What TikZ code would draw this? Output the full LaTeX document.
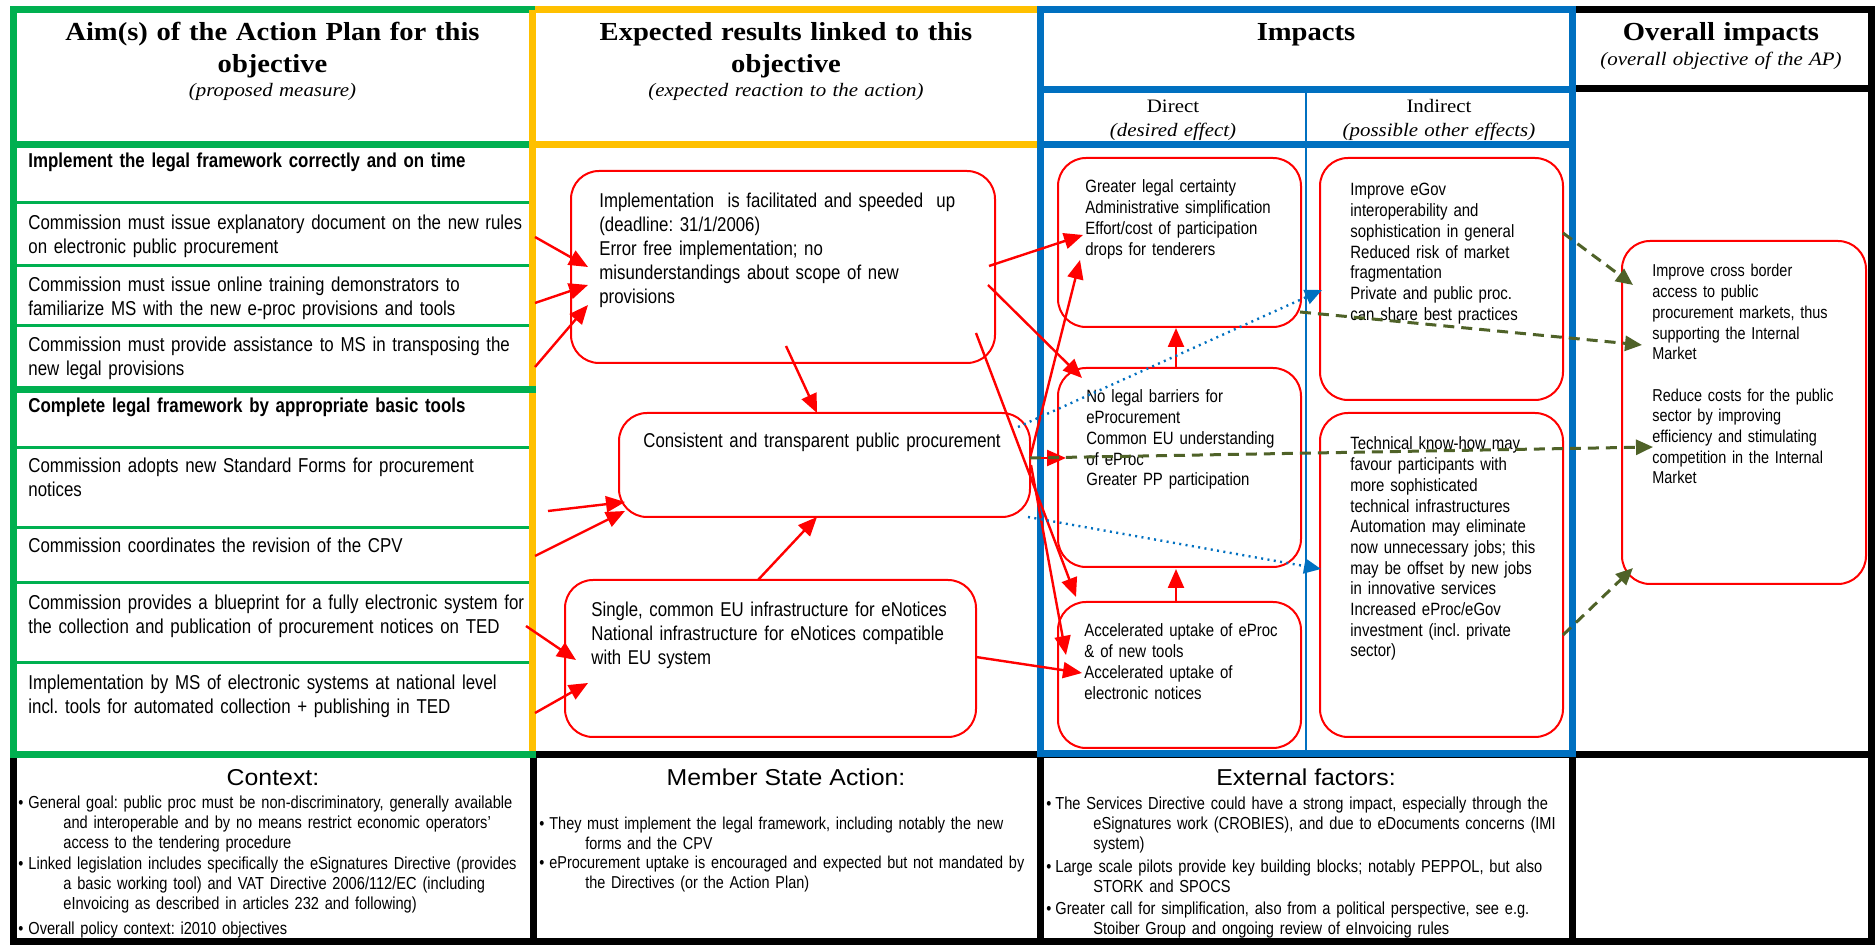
\documentclass[tikz,border=0pt]{standalone}
\usepackage{fontspec}
\setmainfont{Liberation Serif}
\newfontfamily\nar[FakeStretch=0.84]{Liberation Sans}
\newfontfamily\serw[FakeStretch=1.1]{Liberation Serif}
\newfontfamily\sanw[FakeStretch=1.08]{Liberation Sans}
\usetikzlibrary{arrows.meta}
\definecolor{cgreen}{HTML}{00B050}
\definecolor{corange}{HTML}{FFC000}
\definecolor{cblue}{HTML}{0070C0}
\definecolor{cred}{HTML}{FF0000}
\definecolor{colive}{HTML}{4F6228}
\frenchspacing
\begin{document}
\frenchspacing
\begin{tikzpicture}[x=0.5pt,y=-0.5pt,
 frame/.style={line width=3.5pt},
 thinsep/.style={cgreen,line width=1.5pt},
 rbox/.style={draw=cred, line width=1pt, rounded corners=14pt, inner sep=0pt},
 ltext/.style={anchor=base west, inner sep=0pt, text width=300pt, align=left, font=\nar\frenchspacing\fontsize{10.05}{11.75}\selectfont},
 btext/.style={anchor=base west, inner sep=0pt, text width=150pt, align=left, font=\nar\frenchspacing\fontsize{8.9}{10.35}\selectfont},
 ftext/.style={anchor=base west, inner sep=0pt, text width=300pt, align=left, font=\nar\frenchspacing\fontsize{8.7}{10}\selectfont},
 mtext/.style={anchor=base west, inner sep=0pt, text width=300pt, align=left, font=\nar\frenchspacing\fontsize{8.6}{9.7}\selectfont},
 bul/.style={anchor=base west, inner sep=0pt, font=\nar\fontsize{8.6}{10}\selectfont},
 head/.style={anchor=base, inner sep=0pt, text width=250pt, align=center, font=\serw\bfseries\fontsize{13}{16}\selectfont},
 sub/.style={anchor=base, inner sep=0pt, text width=250pt, align=center, font=\serw\itshape\fontsize{9.5}{11}\selectfont},
 subr/.style={anchor=base, inner sep=0pt, text width=250pt, align=center, font=\serw\fontsize{9.5}{11}\selectfont},
 bhead/.style={anchor=base, inner sep=0pt, font=\sanw\fontsize{11.5}{13}\selectfont},
 redarrow/.style={draw=cred, line width=1.2pt, -{Triangle[length=9.5pt,width=8pt]}},
 bluearrow/.style={draw=cblue, line width=1.2pt, dash pattern=on 1pt off 2.2pt, -{Triangle[length=8.5pt,width=7.5pt]}},
 olivearrow/.style={draw=colive, line width=1.5pt, dash pattern=on 5.5pt off 3.5pt, -{Triangle[length=8.5pt,width=7.5pt]}},
]
\fill[white] (0,0) rectangle (1876,945);
\useasboundingbox (0,0) rectangle (1876,945);

% ---------- frames ----------
\draw[frame,black] (13,755) rectangle (1871,942);
\draw[frame,black] (1572,10) rectangle (1871,755);
\draw[frame,black] (1572,89) -- (1871,89);
\draw[frame,black] (533,755) -- (533,942);
\draw[frame,black] (1040,755) -- (1040,942);
\draw[frame,black] (1572,755) -- (1572,942);

\draw[frame,cgreen] (13,10) rectangle (532,755);
\draw[frame,cgreen] (13,145) -- (530,145);
\foreach \yy in {203,266,326,448,528,583,663} \draw[thinsep] (13,\yy) -- (529,\yy);

\draw[frame,corange] (535,10) -- (1040,10);
\draw[frame,corange] (530,145) -- (1040,145);
\draw[frame,corange] (532,10) -- (532,755);

\draw[frame,cgreen] (11,390) -- (536,390);
\draw[frame,cgreen] (11.25,755) -- (536,755);

\draw[frame,cblue] (1040,10) rectangle (1572,754);
\draw[frame,cblue] (1040,90) -- (1572,90);
\draw[frame,cblue] (1040,145) -- (1572,145);
\draw[cblue,line width=1pt] (1306,90) -- (1306,752);

% ---------- headers ----------
\node[head] (h1) at (272.5,41) {Aim(s) of the Action Plan for this\\objective};
\node[sub] (h1s) at (272.5,97) {(proposed measure)};
\node[head] (h2) at (786,41) {Expected results linked to this\\objective};
\node[sub] (h2s) at (786,97) {(expected reaction to the action)};
\node[head] (h3) at (1306,41) {Impacts};
\node[subr] (dir) at (1173,113) {Direct};
\node[sub] (dirs) at (1173,137) {(desired effect)};
\node[subr] (ind) at (1439,113) {Indirect};
\node[sub] (inds) at (1439,137) {(possible other effects)};
\node[head] (h4) at (1721,41) {Overall impacts};
\node[sub] (h4s) at (1721,66) {(overall objective of the AP)};

% ---------- left column ----------
\node[ltext,font=\nar\bfseries\fontsize{10.05}{11.75}\selectfont] (aim1) at (28,168) {Implement the legal framework correctly and on time};
\node[ltext] (aim2) at (28,230) {Commission must issue explanatory document on the new rules\\on electronic public procurement};
\node[ltext] (aim3) at (28,292) {Commission must issue online training demonstrators to\\familiarize MS with the new e-proc provisions and tools};
\node[ltext] (aim4) at (28,352) {Commission must provide assistance to MS in transposing the\\new legal provisions};
\node[ltext,font=\nar\bfseries\fontsize{10.05}{11.75}\selectfont] (aim5) at (28,413) {Complete legal framework by appropriate basic tools};
\node[ltext] (aim6) at (28,473) {Commission adopts new Standard Forms for procurement\\notices};
\node[ltext] (aim7) at (28,553) {Commission coordinates the revision of the CPV};
\node[ltext] (aim8) at (28,610) {Commission provides a blueprint for a fully electronic system for\\the collection and publication of procurement notices on TED};
\node[ltext] (aim9) at (28,690) {Implementation by MS of electronic systems at national level\\incl. tools for automated collection + publishing in TED};

% ---------- result boxes ----------
\node[rbox, minimum width=212pt, minimum height=96pt] (b1) at (783,267) {};
\node[ltext,font=\nar\frenchspacing\fontsize{10}{12}\selectfont] (b1t) at (599,208) {Implementation\ \ is facilitated and speeded\ \ up\\(deadline: 31/1/2006)\\Error free implementation; no\\misunderstandings about scope of new\\provisions};
\node[rbox, minimum width=205.5pt, minimum height=52pt] (b2) at (824.5,465) {};
\node[ltext,font=\nar\frenchspacing\fontsize{10}{12}\selectfont] (b2t) at (643,448) {Consistent and transparent public procurement};
\node[rbox, minimum width=205.5pt, minimum height=78.5pt] (b3) at (770.5,658.5) {};
\node[ltext,font=\nar\frenchspacing\fontsize{10}{12}\selectfont] (b3t) at (591,617) {Single, common EU infrastructure for eNotices\\National infrastructure for eNotices compatible\\with EU system};

% ---------- impact boxes ----------
\node[rbox, minimum width=121.5pt, minimum height=84.5pt] (d1) at (1179.5,242.5) {};
\node[btext] (d1t) at (1085,193) {Greater legal certainty\\Administrative simplification\\Effort/cost of participation\\drops for tenderers};
\node[rbox, minimum width=121.5pt, minimum height=99.5pt] (d2) at (1179.5,467.5) {};
\node[btext] (d2t) at (1086,403) {No legal barriers for\\eProcurement\\Common EU understanding\\of eProc\\Greater PP participation};
\node[rbox, minimum width=121.5pt, minimum height=73pt] (d3) at (1179.5,675) {};
\node[btext] (d3t) at (1084,637) {Accelerated uptake of eProc\\\& of new tools\\Accelerated uptake of\\electronic notices};
\node[rbox, minimum width=121.5pt, minimum height=121pt] (i1) at (1441.5,279) {};
\node[btext] (i1t) at (1350,196) {Improve eGov\\interoperability and\\sophistication in general\\Reduced risk of market\\fragmentation\\Private and public proc.\\can share best practices};
\node[rbox, minimum width=121.5pt, minimum height=162pt] (i2) at (1441.5,575) {};
\node[btext] (i2t) at (1350,450) {Technical know-how may\\favour participants with\\more sophisticated\\technical infrastructures\\Automation may eliminate\\now unnecessary jobs; this\\may be offset by new jobs\\in innovative services\\Increased eProc/eGov\\investment (incl. private\\sector)};
\node[rbox, minimum width=122pt, minimum height=171.5pt] (ov) at (1744,412.5) {};
\node[btext,font=\nar\frenchspacing\fontsize{8.6}{10.35}\selectfont] (ovt) at (1652,277) {Improve cross border\\access to public\\procurement markets, thus\\supporting the Internal\\Market\\[10.35pt]Reduce costs for the public\\sector by improving\\efficiency and stimulating\\competition in the Internal\\Market};

% ---------- bottom row ----------
\node[bhead] (ctx) at (273,786) {Context:};
\node[bhead] (msa) at (786,786) {Member State Action:};
\node[bhead] (ext) at (1306,786) {External factors:};

\node[bul] (cb1) at (18,809) {\textbullet};
\node[ftext] (c1) at (28,809) {General goal: public proc must be non-discriminatory, generally available\\\hspace*{17.5pt}and interoperable and by no means restrict economic operators’\\\hspace*{17.5pt}access to the tendering procedure};
\node[bul] (cb2) at (18,870) {\textbullet};
\node[ftext] (c2) at (28,870) {Linked legislation includes specifically the eSignatures Directive (provides\\\hspace*{17.5pt}a basic working tool) and VAT Directive 2006/112/EC (including\\\hspace*{17.5pt}eInvoicing as described in articles 232 and following)};
\node[bul] (cb3) at (18,935) {\textbullet};
\node[ftext] (c3) at (28,935) {Overall policy context: i2010 objectives};

\node[bul] (mb1) at (539,830) {\textbullet};
\node[mtext] (m1) at (549,830) {They must implement the legal framework, including notably the new\\\hspace*{18pt}forms and the CPV};
\node[bul] (mb2) at (539,869) {\textbullet};
\node[mtext] (m2) at (549,869) {eProcurement uptake is encouraged and expected but not mandated by\\\hspace*{18pt}the Directives (or the Action Plan)};

\node[bul] (eb1) at (1046,810) {\textbullet};
\node[ftext] (e1) at (1055,810) {The Services Directive could have a strong impact, especially through the\\\hspace*{19pt}eSignatures work (CROBIES), and due to eDocuments concerns (IMI\\\hspace*{19pt}system)};
\node[bul] (eb2) at (1046,873) {\textbullet};
\node[ftext] (e2) at (1055,873) {Large scale pilots provide key building blocks; notably PEPPOL, but also\\\hspace*{19pt}STORK and SPOCS};
\node[bul] (eb3) at (1046,915) {\textbullet};
\node[ftext] (e3) at (1055,915) {Greater call for simplification, also from a political perspective, see e.g.\\\hspace*{19pt}Stoiber Group and ongoing review of eInvoicing rules};

% ---------- connector end points ----------
\coordinate (s2) at (535,237);
\coordinate (s3) at (535,303);
\coordinate (s4) at (535,367);
\coordinate (s6) at (548,511);
\coordinate (s7) at (535,556);
\coordinate (s8) at (526,626);
\coordinate (s9) at (535,713);
\coordinate (b1a) at (588,267);
\coordinate (b1b) at (588,285);
\coordinate (b1c) at (588,305);
\coordinate (b2a) at (625,502);
\coordinate (b2b) at (625,511);
\coordinate (b3a) at (576,660);
\coordinate (b3b) at (588,683);
\coordinate (b1o1) at (989,266);
\coordinate (b1o2) at (988,285);
\coordinate (b1o3) at (976,333);
\coordinate (b1o4) at (786,346);
\coordinate (b2i1) at (817,413);
\coordinate (b2i2) at (817,517);
\coordinate (b3o1) at (758,580);
\coordinate (b3o2) at (976,657);
\coordinate (b2o) at (1030,458);
\coordinate (b2o2) at (1031,465);
\coordinate (b2o3) at (1018,427);
\coordinate (b2o4) at (1028,517);
\coordinate (d1a) at (1083,235);
\coordinate (d1b) at (1080,260);
\coordinate (d1c) at (1176,328);
\coordinate (d1o) at (1300,312);
\coordinate (d2a) at (1082,378);
\coordinate (d2b) at (1066,458);
\coordinate (d2c) at (1176,569);
\coordinate (d2o) at (1176,368);
\coordinate (d3a) at (1076,597);
\coordinate (d3b) at (1066,655);
\coordinate (d3c) at (1082,673);
\coordinate (d3o) at (1176,602);
\coordinate (i1a) at (1322,290);
\coordinate (i1o) at (1563,233);
\coordinate (i2a) at (1321,569);
\coordinate (i2o) at (1563,635);
\coordinate (ova) at (1633,285);
\coordinate (ovb) at (1642,345);
\coordinate (ovc) at (1653,447);
\coordinate (ovd) at (1633,568);

% ---------- connectors ----------
\draw[redarrow] (s2) -- (b1a);
\draw[redarrow] (s3) -- (b1b);
\draw[redarrow] (s4) -- (b1c);
\draw[redarrow] (s6) -- (b2a);
\draw[redarrow] (s7) -- (b2b);
\draw[redarrow] (s8) -- (b3a);
\draw[redarrow] (s9) -- (b3b);
\draw[redarrow] (b1o4) -- (b2i1);
\draw[redarrow] (b3o1) -- (b2i2);
\draw[redarrow] (b1o1) -- (d1a);
\draw[redarrow] (b1o2) -- (d2a);
\draw[redarrow] (b1o3) -- (d3a);
\draw[redarrow] (b2o) -- (d1b);
\draw[redarrow] (b2o) -- (d2b);
\draw[redarrow] (b2o2) -- (d3b);
\draw[redarrow] (b3o2) -- (d3c);
\draw[redarrow] (d3o) -- (d2c);
\draw[redarrow] (d2o) -- (d1c);

\draw[bluearrow] (b2o3) -- (i1a);
\draw[bluearrow] (b2o4) -- (i2a);

\draw[olivearrow] (i1o) -- (ova);
\draw[olivearrow] (d1o) -- (ovb);
\draw[olivearrow] (b2o) -- (ovc);
\draw[olivearrow] (i2o) -- (ovd);
\end{tikzpicture}
\end{document}
